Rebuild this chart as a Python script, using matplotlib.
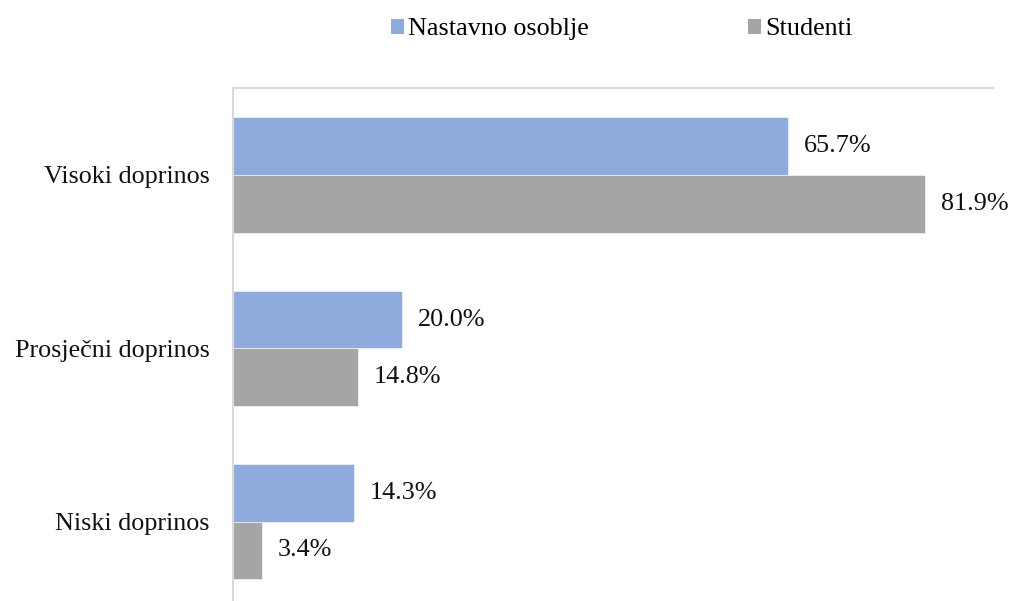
import numpy as np
import matplotlib.pyplot as plt
from matplotlib.patches import Patch

plt.rcParams['font.family'] = ['Liberation Serif', 'DejaVu Serif']

categories = ['Visoki doprinos', 'Prosječni doprinos', 'Niski doprinos']
series_names = ['Nastavno osoblje', 'Studenti']
nastavno = [65.7, 20.0, 14.3]
studenti = [81.9, 14.8, 3.4]

colors = ['#8FAADC', '#A5A5A5']
bar_h = 0.332
fs = 18.8

fig = plt.figure(figsize=(10.10, 6.01), dpi=100)
ax = fig.add_axes([0.2307, -0.0123, 0.7525, 0.8654])

y = np.arange(len(categories))[::-1]
for vals, off, col in [(nastavno, bar_h / 2, colors[0]), (studenti, -bar_h / 2, colors[1])]:
    bars = ax.barh(y + off, vals, height=bar_h, color=col, edgecolor='white', linewidth=0.4)
    for b, v in zip(bars, vals):
        ax.text(b.get_width() + 1.9, b.get_y() + b.get_height() / 2, f'{v:.1f}%',
                va='center', ha='left', fontsize=fs, color='#111111')

ax.set_xlim(0, 90)
ax.set_ylim(-0.5, 2.5)
ax.set_yticks(y)
ax.set_yticklabels(categories, fontsize=fs, color='#111111')
ax.tick_params(axis='y', length=0, pad=17)
ax.set_xticks([])

for side in ['right', 'bottom']:
    ax.spines[side].set_visible(False)
for side in ['left', 'top']:
    ax.spines[side].set_color('#D9D9D9')
    ax.spines[side].set_linewidth(1.5)

handles = [Patch(facecolor=c, edgecolor='none') for c in colors]
fig.legend(handles, series_names, loc='center', bbox_to_anchor=(0.6156, 0.951), ncol=2,
           frameon=False, fontsize=fs, handlelength=0.5, handleheight=0.5,
           handletextpad=0.15, columnspacing=6.1)

fig.savefig('out.png', dpi=100)
